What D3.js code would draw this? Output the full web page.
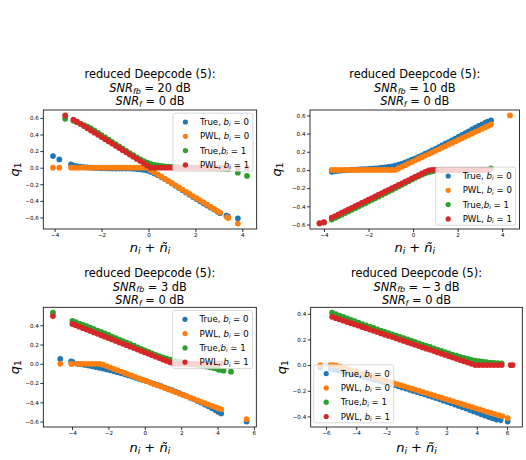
<!DOCTYPE html>
<html>
<head>
<meta charset="utf-8">
<script src="https://cdn.jsdelivr.net/npm/d3@7"></script>
<style>
  html, body { margin: 0; padding: 0; background: #fff; }
  svg { display: block; font-family: "DejaVu Sans", sans-serif; }
</style>
</head>
<body>
<svg id="fig" width="526" height="460"></svg>
<script>
// ---------- data: q1 versus n_i + ñ_i, one array per series and panel ----------

// SNR_fb = 20 dB
const p1True0 = [[-4.07,0.14],[-3.8,0.1],[-3.3,0.04],[-3.2,0.025],[-3.05,0.018],[-2.9,0.012],[-2.75,0.007],[-2.6,0.003],[-2.45,0],[-2.3,-0.003],[-2.15,-0.005],[-2,-0.007],[-1.85,-0.008],[-1.7,-0.009],[-1.55,-0.01],[-1.4,-0.01],[-1.25,-0.01],[-1.1,-0.01],[-0.95,-0.01],[-0.8,-0.011],[-0.65,-0.013],[-0.5,-0.016],[-0.35,-0.021],[-0.2,-0.027],[-0.05,-0.035],[0.1,-0.05],[0.25,-0.07],[0.4,-0.09],[0.55,-0.113],[0.7,-0.137],[0.85,-0.163],[1,-0.19],[1.15,-0.217],[1.3,-0.244],[1.45,-0.271],[1.6,-0.298],[1.75,-0.325],[1.9,-0.352],[2.05,-0.379],[2.2,-0.406],[2.35,-0.432],[2.5,-0.457],[2.65,-0.48],[2.8,-0.505],[2.95,-0.53],[3.05,-0.548],[3.32,-0.578],[3.39,-0.587],[3.81,-0.61]];
const p1Pwl0 = [[-4.07,0],[-3.8,0],[-3.3,0],[-3.2,0],[-3.05,0],[-2.9,0],[-2.75,0],[-2.6,0],[-2.45,0],[-2.3,0],[-2.15,0],[-2,0],[-1.85,0],[-1.7,0],[-1.55,0],[-1.4,0],[-1.25,0],[-1.1,0],[-0.95,0],[-0.8,0],[-0.65,0],[-0.5,0],[-0.35,0],[-0.2,0],[-0.05,0],[0.1,-0.031],[0.25,-0.057],[0.4,-0.083],[0.55,-0.109],[0.7,-0.135],[0.85,-0.161],[1,-0.187],[1.15,-0.213],[1.3,-0.239],[1.45,-0.265],[1.6,-0.291],[1.75,-0.317],[1.9,-0.343],[2.05,-0.368],[2.2,-0.394],[2.35,-0.42],[2.5,-0.446],[2.65,-0.472],[2.8,-0.498],[2.95,-0.524],[3.05,-0.541],[3.35,-0.596],[3.4,-0.606],[3.81,-0.674]];
const p1True1 = [[-3.55,0.59],[-3.2,0.565],[-3.05,0.549],[-2.9,0.532],[-2.75,0.514],[-2.6,0.495],[-2.45,0.472],[-2.3,0.447],[-2.15,0.42],[-2,0.392],[-1.85,0.365],[-1.7,0.338],[-1.55,0.311],[-1.4,0.284],[-1.25,0.257],[-1.1,0.23],[-0.95,0.203],[-0.8,0.176],[-0.65,0.15],[-0.5,0.125],[-0.35,0.101],[-0.2,0.079],[-0.05,0.06],[0.1,0.045],[0.25,0.034],[0.4,0.026],[0.55,0.02],[0.7,0.016],[0.85,0.013],[1,0.01],[1.15,0.008],[1.3,0.006],[1.45,0.005],[1.6,0.004],[1.75,0.003],[1.9,0.002],[2.05,0.001],[2.2,0],[2.35,-0.001],[2.5,-0.002],[2.65,-0.004],[2.8,-0.006],[2.95,-0.008],[3.1,-0.011],[3.25,-0.014],[3.4,-0.018],[3.81,-0.06],[4.2,-0.1]];
const p1Pwl1 = [[-3.55,0.63],[-3.2,0.58],[-3.05,0.554],[-2.9,0.527],[-2.75,0.501],[-2.6,0.475],[-2.45,0.448],[-2.3,0.422],[-2.15,0.396],[-2,0.369],[-1.85,0.343],[-1.7,0.316],[-1.55,0.29],[-1.4,0.264],[-1.25,0.237],[-1.1,0.211],[-0.95,0.185],[-0.8,0.158],[-0.65,0.132],[-0.5,0.105],[-0.35,0.079],[-0.2,0.053],[-0.05,0.026],[0.1,0],[0.25,0],[0.4,0],[0.55,0],[0.7,0],[0.85,0],[1,0],[1.15,0],[1.3,0],[1.45,0],[1.6,0],[1.75,0],[1.9,0],[2.05,0],[2.2,0],[2.35,0],[2.5,0],[2.65,0],[2.8,0],[2.95,0],[3.1,0],[3.25,0],[3.4,0],[3.81,0],[4.2,0]];

// SNR_fb = 10 dB
const p2True0 = [[-3.65,-0.02],[-3.5,-0.015],[-3.35,-0.01],[-3.2,-0.007],[-3.05,-0.004],[-2.9,-0.001],[-2.75,0.002],[-2.6,0.004],[-2.45,0.006],[-2.3,0.008],[-2.15,0.01],[-2,0.012],[-1.85,0.014],[-1.7,0.017],[-1.55,0.02],[-1.4,0.024],[-1.25,0.028],[-1.1,0.033],[-0.95,0.04],[-0.8,0.048],[-0.65,0.058],[-0.5,0.07],[-0.35,0.083],[-0.2,0.097],[-0.05,0.112],[0.1,0.128],[0.25,0.144],[0.4,0.161],[0.55,0.178],[0.7,0.196],[0.85,0.214],[1,0.232],[1.15,0.25],[1.3,0.269],[1.45,0.288],[1.6,0.307],[1.75,0.326],[1.9,0.345],[2.05,0.365],[2.2,0.385],[2.35,0.405],[2.5,0.425],[2.65,0.445],[2.8,0.465],[2.95,0.484],[3.1,0.502],[3.25,0.52],[3.35,0.53],[3.5,0.545]];
const p2Pwl0 = [[-3.65,0],[-3.5,0],[-3.35,0],[-3.2,0],[-3.05,0],[-2.9,0],[-2.75,0],[-2.6,0],[-2.45,0],[-2.3,0],[-2.15,0],[-2,0],[-1.85,0],[-1.7,0],[-1.55,0],[-1.4,0],[-1.25,0],[-1.1,0],[-0.95,0],[-0.8,0],[-0.65,0.019],[-0.5,0.036],[-0.35,0.053],[-0.2,0.071],[-0.05,0.088],[0.1,0.106],[0.25,0.123],[0.4,0.14],[0.55,0.158],[0.7,0.175],[0.85,0.193],[1,0.21],[1.15,0.227],[1.3,0.245],[1.45,0.262],[1.6,0.28],[1.75,0.297],[1.9,0.314],[2.05,0.332],[2.2,0.349],[2.35,0.367],[2.5,0.384],[2.65,0.401],[2.8,0.419],[2.95,0.436],[3.1,0.454],[3.25,0.471],[3.35,0.483],[3.5,0.5],[4.35,0.6]];
const p2True1 = [[-4.2,-0.59],[-4,-0.578],[-3.65,-0.545],[-3.5,-0.528],[-3.35,-0.51],[-3.2,-0.492],[-3.05,-0.474],[-2.9,-0.456],[-2.75,-0.438],[-2.6,-0.42],[-2.45,-0.402],[-2.3,-0.384],[-2.15,-0.366],[-2,-0.348],[-1.85,-0.33],[-1.7,-0.312],[-1.55,-0.294],[-1.4,-0.275],[-1.25,-0.257],[-1.1,-0.238],[-0.95,-0.22],[-0.8,-0.201],[-0.65,-0.182],[-0.5,-0.163],[-0.35,-0.144],[-0.2,-0.125],[-0.05,-0.106],[0.1,-0.087],[0.25,-0.069],[0.4,-0.052],[0.55,-0.037],[0.7,-0.025],[0.85,-0.016],[1,-0.01],[1.15,-0.006],[1.3,-0.004],[1.45,-0.003],[1.6,-0.002],[1.75,-0.002],[1.9,-0.001],[2.05,-0.001],[2.2,0],[2.35,0],[2.5,0],[2.65,0],[2.8,0],[2.95,0.001],[3.1,0.002],[3.25,0.003],[3.5,0.018]];
const p2Pwl1 = [[-4.2,-0.585],[-4,-0.575],[-3.65,-0.525],[-3.5,-0.507],[-3.35,-0.489],[-3.2,-0.471],[-3.05,-0.453],[-2.9,-0.435],[-2.75,-0.417],[-2.6,-0.399],[-2.45,-0.381],[-2.3,-0.363],[-2.15,-0.345],[-2,-0.327],[-1.85,-0.309],[-1.7,-0.291],[-1.55,-0.273],[-1.4,-0.255],[-1.25,-0.237],[-1.1,-0.219],[-0.95,-0.201],[-0.8,-0.183],[-0.65,-0.165],[-0.5,-0.147],[-0.35,-0.129],[-0.2,-0.111],[-0.05,-0.093],[0.1,-0.075],[0.25,-0.057],[0.4,-0.039],[0.55,-0.021],[0.7,-0.004],[0.85,0],[1,0],[1.15,0],[1.3,0],[1.45,0],[1.6,0],[1.75,0],[1.9,0],[2.05,0],[2.2,0],[2.35,0],[2.5,0],[2.65,0],[2.8,0],[2.95,0],[3.1,0],[3.25,0],[3.4,0]];

// SNR_fb = 3 dB
const p3True0 = [[-4.65,0.05],[-4.05,0.025],[-3.98,0.02],[-3.7,0],[-3.5,-0.006],[-3.3,-0.012],[-3.1,-0.019],[-2.9,-0.026],[-2.7,-0.034],[-2.5,-0.042],[-2.3,-0.05],[-2.1,-0.059],[-1.9,-0.068],[-1.7,-0.078],[-1.5,-0.088],[-1.3,-0.099],[-1.1,-0.11],[-0.9,-0.121],[-0.7,-0.133],[-0.5,-0.145],[-0.3,-0.157],[-0.1,-0.169],[0.1,-0.181],[0.3,-0.194],[0.5,-0.207],[0.7,-0.22],[0.9,-0.233],[1.1,-0.247],[1.3,-0.261],[1.5,-0.275],[1.7,-0.29],[1.9,-0.305],[2.1,-0.32],[2.3,-0.336],[2.5,-0.352],[2.7,-0.369],[2.9,-0.386],[3.1,-0.404],[3.3,-0.423],[3.5,-0.442],[3.7,-0.462],[3.9,-0.483],[4.05,-0.5],[4.2,-0.516],[5.6,-0.6]];
const p3Pwl0 = [[-4.65,0],[-4.05,0],[-3.98,0],[-3.7,0],[-3.5,0],[-3.3,0],[-3.1,0],[-2.9,0],[-2.7,0],[-2.5,0],[-2.3,-0.01],[-2.1,-0.024],[-1.9,-0.039],[-1.7,-0.053],[-1.5,-0.067],[-1.3,-0.081],[-1.1,-0.096],[-0.9,-0.11],[-0.7,-0.124],[-0.5,-0.138],[-0.3,-0.153],[-0.1,-0.167],[0.1,-0.181],[0.3,-0.195],[0.5,-0.21],[0.7,-0.224],[0.9,-0.238],[1.1,-0.252],[1.3,-0.267],[1.5,-0.281],[1.7,-0.295],[1.9,-0.31],[2.1,-0.324],[2.3,-0.338],[2.5,-0.352],[2.7,-0.367],[2.9,-0.381],[3.1,-0.395],[3.3,-0.409],[3.5,-0.424],[3.7,-0.438],[3.9,-0.452],[4.05,-0.463],[4.2,-0.473],[5.6,-0.575]];
const p3True1 = [[-5.05,0.53],[-3.98,0.444],[-3.8,0.432],[-3.6,0.418],[-3.4,0.404],[-3.2,0.39],[-3,0.375],[-2.8,0.36],[-2.6,0.345],[-2.4,0.33],[-2.2,0.315],[-2,0.299],[-1.8,0.283],[-1.6,0.267],[-1.4,0.251],[-1.2,0.235],[-1,0.219],[-0.8,0.203],[-0.6,0.187],[-0.4,0.171],[-0.2,0.155],[0,0.139],[0.2,0.123],[0.4,0.108],[0.6,0.093],[0.8,0.079],[1,0.066],[1.2,0.054],[1.4,0.043],[1.6,0.033],[1.8,0.024],[2,0.016],[2.2,0.009],[2.4,0.003],[2.6,-0.003],[2.8,-0.009],[3,-0.015],[3.2,-0.022],[3.4,-0.029],[3.6,-0.037],[3.8,-0.045],[4,-0.054],[4.1,-0.064],[4.33,-0.072],[4.74,-0.082]];
const p3Pwl1 = [[-5.05,0.495],[-3.98,0.413],[-3.8,0.4],[-3.6,0.385],[-3.4,0.37],[-3.2,0.355],[-3,0.341],[-2.8,0.326],[-2.6,0.311],[-2.4,0.296],[-2.2,0.281],[-2,0.267],[-1.8,0.252],[-1.6,0.237],[-1.4,0.222],[-1.2,0.207],[-1,0.193],[-0.8,0.178],[-0.6,0.163],[-0.4,0.148],[-0.2,0.133],[0,0.118],[0.2,0.104],[0.4,0.089],[0.6,0.074],[0.8,0.059],[1,0.044],[1.2,0.03],[1.4,0.015],[1.6,0],[1.8,0],[2,0],[2.2,0],[2.4,0],[2.6,0],[2.8,0],[3,0],[3.2,0],[3.4,0],[3.6,0],[3.8,0],[4,0],[4.2,0]];

// SNR_fb = -3 dB
const p4True0 = [[-6.38,-0.018],[-5.7,-0.028],[-5.45,-0.034],[-5.2,-0.04],[-4.95,-0.047],[-4.7,-0.054],[-4.45,-0.061],[-4.2,-0.068],[-3.95,-0.076],[-3.7,-0.083],[-3.45,-0.091],[-3.2,-0.099],[-2.95,-0.107],[-2.7,-0.115],[-2.45,-0.123],[-2.2,-0.131],[-1.95,-0.139],[-1.7,-0.148],[-1.45,-0.156],[-1.2,-0.165],[-0.95,-0.174],[-0.7,-0.183],[-0.45,-0.192],[-0.2,-0.201],[0.05,-0.21],[0.3,-0.219],[0.55,-0.228],[0.8,-0.238],[1.05,-0.247],[1.3,-0.257],[1.55,-0.267],[1.8,-0.277],[2.05,-0.287],[2.3,-0.297],[2.55,-0.307],[2.8,-0.318],[3.05,-0.328],[3.3,-0.339],[3.55,-0.35],[3.8,-0.361],[4.05,-0.372],[4.3,-0.383],[4.55,-0.394],[4.8,-0.405],[5.05,-0.415],[5.3,-0.424],[5.58,-0.428],[6.05,-0.44]];
const p4Pwl0 = [[-6.38,0],[-5.7,0],[-5.5,0],[-5.3,-0.004],[-5.05,-0.013],[-4.8,-0.022],[-4.55,-0.031],[-4.3,-0.04],[-4.05,-0.049],[-3.8,-0.058],[-3.55,-0.067],[-3.3,-0.077],[-3.05,-0.086],[-2.8,-0.094],[-2.55,-0.103],[-2.3,-0.112],[-2.05,-0.121],[-1.8,-0.13],[-1.55,-0.139],[-1.3,-0.148],[-1.05,-0.157],[-0.8,-0.166],[-0.55,-0.175],[-0.3,-0.184],[-0.05,-0.193],[0.2,-0.202],[0.45,-0.211],[0.7,-0.22],[0.95,-0.229],[1.2,-0.238],[1.45,-0.247],[1.7,-0.256],[1.95,-0.265],[2.2,-0.274],[2.45,-0.283],[2.7,-0.292],[2.95,-0.301],[3.2,-0.31],[3.45,-0.319],[3.7,-0.328],[3.95,-0.337],[4.2,-0.346],[4.45,-0.355],[4.7,-0.364],[4.95,-0.373],[5.2,-0.382],[5.45,-0.391],[5.69,-0.398],[6.05,-0.413]];
const p4True1 = [[-5.6,0.408],[-5.35,0.397],[-5.1,0.386],[-4.85,0.375],[-4.6,0.364],[-4.35,0.353],[-4.1,0.342],[-3.85,0.331],[-3.6,0.32],[-3.35,0.31],[-3.1,0.3],[-2.85,0.289],[-2.6,0.279],[-2.35,0.269],[-2.1,0.259],[-1.85,0.249],[-1.6,0.239],[-1.35,0.229],[-1.1,0.22],[-0.85,0.21],[-0.6,0.2],[-0.35,0.19],[-0.1,0.18],[0.15,0.17],[0.4,0.16],[0.65,0.15],[0.9,0.141],[1.15,0.131],[1.4,0.121],[1.65,0.111],[1.9,0.101],[2.15,0.092],[2.4,0.082],[2.65,0.073],[2.9,0.064],[3.15,0.056],[3.4,0.048],[3.65,0.041],[3.9,0.035],[4.15,0.03],[4.4,0.026],[4.65,0.023],[4.9,0.02],[5.15,0.018],[5.4,0.016],[5.65,0.014]];
const p4Pwl1 = [[-5.6,0.376],[-5.35,0.366],[-5.1,0.356],[-4.85,0.346],[-4.6,0.336],[-4.35,0.327],[-4.1,0.317],[-3.85,0.307],[-3.6,0.297],[-3.35,0.287],[-3.1,0.277],[-2.85,0.267],[-2.6,0.257],[-2.35,0.247],[-2.1,0.237],[-1.85,0.227],[-1.6,0.218],[-1.35,0.208],[-1.1,0.198],[-0.85,0.188],[-0.6,0.178],[-0.35,0.168],[-0.1,0.158],[0.15,0.148],[0.4,0.138],[0.65,0.128],[0.9,0.119],[1.15,0.109],[1.4,0.099],[1.65,0.089],[1.9,0.079],[2.15,0.069],[2.4,0.059],[2.65,0.049],[2.9,0.039],[3.15,0.03],[3.4,0.02],[3.65,0.01],[3.9,0],[4.15,0],[4.4,0],[4.65,0],[4.9,0],[5.15,0],[5.4,0],[5.65,0],[6.24,0],[6.38,0]];

// titles and ticks
const snrFbLabels = ["20", "10", "3", "\u2212\u20093"];
const snrFLabel = "0";
const xTicksA = [-4, -2, 0, 2, 4];
const xTicksB = [-4, -2, 0, 2, 4, 6];
const xTicksC = [-6, -4, -2, 0, 2, 4, 6];
const yTicksA = [-0.6, -0.4, -0.2, 0, 0.2, 0.4, 0.6];
const yTicksB = [-0.6, -0.4, -0.2, 0, 0.2, 0.4];
const yTicksC = [-0.4, -0.2, 0, 0.2, 0.4];

// legend entries: prefix text and bit value
const legendPrefix = ["True, ", "PWL, ", "True,", "PWL, "];
const legendBit = ["0", "0", "1", "1"];
const colors = ["#1f77b4", "#ff7f0e", "#2ca02c", "#d62728"];

// ---------- layout ----------
const panels = [
  { frame: {l: 43.3, r: 256.7, t: 110, b: 229}, series: [p1True0, p1Pwl0, p1True1, p1Pwl1],
    xTicks: xTicksA, yTicks: yTicksA, snr: snrFbLabels[0], loc: "upper right", ylabX: 18.5, titleY: 78, xlabY: 251.5 },
  { frame: {l: 310, r: 519.5, t: 110, b: 229}, series: [p2True0, p2Pwl0, p2True1, p2Pwl1],
    xTicks: xTicksA, yTicks: yTicksA, snr: snrFbLabels[1], loc: "lower right", ylabX: 280.5, titleY: 78, xlabY: 251.5 },
  { frame: {l: 43.3, r: 256.3, t: 307.3, b: 427}, series: [p3True0, p3Pwl0, p3True1, p3Pwl1],
    xTicks: xTicksB, yTicks: yTicksB, snr: snrFbLabels[2], loc: "upper right", ylabX: 18.5, titleY: 276.9, xlabY: 451.8 },
  { frame: {l: 310.7, r: 522.3, t: 307.3, b: 427}, series: [p4True0, p4Pwl0, p4True1, p4Pwl1],
    xTicks: xTicksC, yTicks: yTicksC, snr: snrFbLabels[3], loc: "lower left", ylabX: 285.5, titleY: 276.9, xlabY: 451.8 }
];

const svg = d3.select("#fig");
const FONT = "DejaVu Sans";

// text made of plain / italic / subscript pieces, in the manner of mathtext
function richText(sel, parts, size) {
  let shifted = 0;
  parts.forEach(([txt, kind]) => {
    const sub = kind === "si" || kind === "s";
    const ts = sel.append("tspan").text(txt);
    if (kind === "i" || kind === "si") ts.attr("font-style", "italic");
    const target = sub ? size * 0.16 : 0;
    if (target !== shifted) { ts.attr("dy", target - shifted); shifted = target; }
    if (sub) ts.attr("font-size", size * 0.7);
  });
}

panels.forEach((p, pi) => {
  const f = p.frame;
  const g = svg.append("g");
  const all = p.series.flat();
  const xe = d3.extent(all, d => d[0]), ye = d3.extent(all, d => d[1]);
  const dx = (xe[1] - xe[0]) * 0.05, dy = (ye[1] - ye[0]) * 0.05;
  const x = d3.scaleLinear().domain([xe[0] - dx, xe[1] + dx]).range([f.l, f.r]);
  const y = d3.scaleLinear().domain([ye[0] - dy, ye[1] + dy]).range([f.b, f.t]);

  const clipId = "clip" + pi;
  g.append("clipPath").attr("id", clipId).append("rect")
    .attr("x", f.l).attr("y", f.t).attr("width", f.r - f.l).attr("height", f.b - f.t);

  // scatter series, drawn in legend order
  const pts = g.append("g").attr("clip-path", `url(#${clipId})`);
  p.series.forEach((s, si) => {
    pts.append("g").selectAll("circle").data(s).join("circle")
      .attr("cx", d => x(d[0])).attr("cy", d => y(d[1])).attr("r", 2.9)
      .attr("fill", colors[si]);
  });

  // axes
  const xAxis = g.append("g").attr("transform", `translate(0,${f.b})`)
    .call(d3.axisBottom(x).tickValues(p.xTicks).tickSize(3).tickPadding(1.2).tickFormat(d3.format("d")));
  const yAxis = g.append("g").attr("transform", `translate(${f.l},0)`)
    .call(d3.axisLeft(y).tickValues(p.yTicks).tickSize(3).tickPadding(1.5).tickFormat(d3.format(".1f")));
  [xAxis, yAxis].forEach(a => {
    a.select(".domain").remove();
    a.selectAll(".tick line").attr("stroke", "#000").attr("stroke-width", 0.8);
    a.selectAll(".tick text").attr("font-family", FONT).attr("font-size", 5.6).attr("fill", "#000");
  });

  // frame
  g.append("rect").attr("x", f.l).attr("y", f.t).attr("width", f.r - f.l).attr("height", f.b - f.t)
    .attr("fill", "none").attr("stroke", "#000").attr("stroke-width", 0.8);

  // title
  const cx = (f.l + f.r) / 2, ts = 11.4, lh = 13.7;
  g.append("text").attr("x", cx).attr("y", p.titleY).attr("text-anchor", "middle")
    .attr("font-family", FONT).attr("font-size", ts).text("reduced Deepcode (5):");
  richText(g.append("text").attr("x", cx).attr("y", p.titleY + lh).attr("text-anchor", "middle")
    .attr("font-family", FONT).attr("font-size", ts),
    [["SNR", "i"], ["fb", "si"], [" = " + p.snr + " dB", "n"]], ts);
  richText(g.append("text").attr("x", cx).attr("y", p.titleY + 2 * lh).attr("text-anchor", "middle")
    .attr("font-family", FONT).attr("font-size", ts),
    [["SNR", "i"], ["f", "si"], [" = " + snrFLabel + " dB", "n"]], ts);

  // axis labels
  const ls = 13;
  richText(g.append("text").attr("x", cx).attr("y", p.xlabY).attr("text-anchor", "middle")
    .attr("font-family", FONT).attr("font-size", ls),
    [["n", "i"], ["i", "si"], [" + ", "n"], ["ñ", "i"], ["i", "si"]], ls);
  const ymid = (f.t + f.b) / 2;
  richText(g.append("text").attr("transform", `translate(${p.ylabX},${ymid}) rotate(-90)`)
    .attr("text-anchor", "middle").attr("font-family", FONT).attr("font-size", ls),
    [["q", "i"], ["1", "s"]], ls);

  // legend
  const W = 80, H = 58, pad = 3.8;
  let L, T;
  if (p.loc === "upper right") { L = f.r - pad - W; T = f.t + 3.2; }
  else if (p.loc === "lower right") { L = f.r - pad - W; T = f.b - pad - H; }
  else { L = f.l + 3; T = f.b - 4.2 - H; }
  const lg = g.append("g");
  lg.append("rect").attr("x", L).attr("y", T).attr("width", W).attr("height", H).attr("rx", 2.2)
    .attr("fill", "#fff").attr("fill-opacity", 0.8)
    .attr("stroke", "#cccccc").attr("stroke-opacity", 0.8).attr("stroke-width", 0.9);
  const fs = 8.6;
  legendPrefix.forEach((pre, i) => {
    const ry = T + 8.8 + i * 14.3;
    lg.append("circle").attr("cx", L + 12.5).attr("cy", ry).attr("r", 2.6).attr("fill", colors[i]);
    richText(lg.append("text").attr("x", L + 27).attr("y", ry + 3.1)
      .attr("font-family", FONT).attr("font-size", fs),
      [[pre, "n"], ["b", "i"], ["i", "si"], [" = " + legendBit[i], "n"]], fs);
  });
});
</script>
</body>
</html>
